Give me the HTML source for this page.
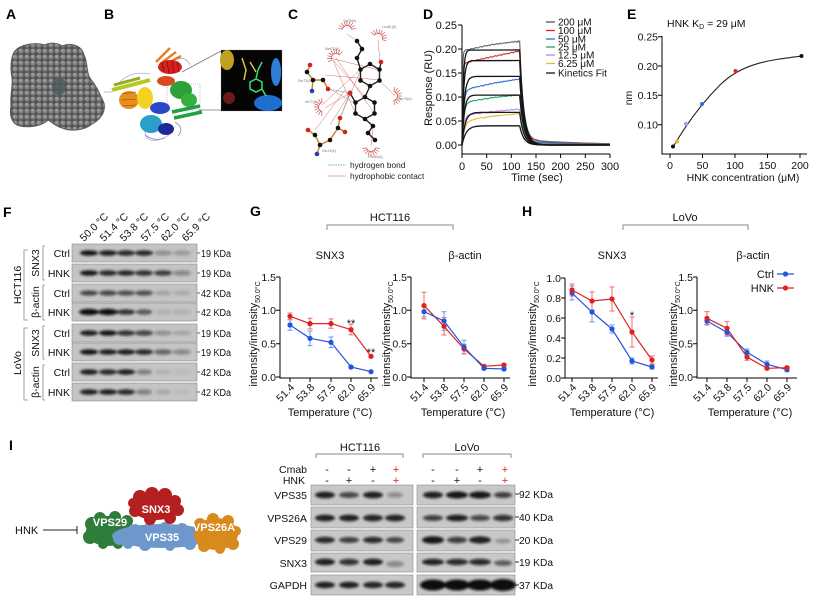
<!DOCTYPE html>
<html><head><meta charset="utf-8"><title>Figure</title>
<style>
html,body{margin:0;padding:0;background:#fff;width:819px;height:603px;overflow:hidden}
svg{display:block;font-family:"Liberation Sans",Arial,sans-serif}
</style></head><body>
<svg width="819" height="603" viewBox="0 0 819 603" xmlns="http://www.w3.org/2000/svg" xmlns:xlink="http://www.w3.org/1999/xlink">
<defs>
 <filter id="bl" x="-50%" y="-150%" width="200%" height="400%"><feGaussianBlur stdDeviation="1.3"/></filter>
 <filter id="bs" x="-20%" y="-20%" width="140%" height="140%"><feGaussianBlur stdDeviation="0.5"/></filter>
 <pattern id="bump" width="6" height="6" patternUnits="userSpaceOnUse">
  <rect width="6" height="6" fill="#555"/>
  <circle cx="3" cy="3" r="2.5" fill="#858585"/>
  <circle cx="2.4" cy="2.3" r="1.1" fill="#a8a8a8"/>
 </pattern>
 <g id="sp" fill="none" stroke="#d45050" stroke-width="0.7">
  <path d="M-4.43,-0.78A4.5,4.5 0 0 1 4.43,-0.78 M-4.43,-0.78L-8.86,-1.57 M-3.9,-2.25L-7.79,-4.5 M-2.89,-3.45L-5.79,-6.89 M-1.54,-4.23L-3.08,-8.46 M0,-4.5L0,-9 M1.54,-4.23L3.08,-8.46 M2.89,-3.45L5.79,-6.89 M3.9,-2.25L7.79,-4.5 M4.43,-0.78L8.86,-1.57"/>
 </g>
</defs>
<rect width="819" height="603" fill="#fff"/>

<!-- Panel letters -->
<g font-weight="bold" font-size="14" fill="#000">
<text x="6" y="19">A</text><text x="104" y="19">B</text><text x="288" y="19">C</text><text x="423" y="19">D</text><text x="627" y="19">E</text>
<text x="3" y="217">F</text><text x="250" y="216">G</text><text x="522" y="216">H</text><text x="9" y="450">I</text>
</g>

<!-- Panel A -->
<path d="M14,52 C20,44 35,42 45,45 C50,42 58,43 62,46 C72,42 82,46 84,55 C88,62 86,72 90,78 C98,88 100,95 104,103 C106,112 100,120 92,124 C85,130 72,132 62,128 C55,126 52,122 48,120 C42,126 30,128 20,126 C12,124 9,116 11,106 C10,95 13,86 12,78 C10,68 11,58 14,52 Z" fill="url(#bump)" stroke="#5a5a5a" stroke-width="1"/>
<ellipse cx="59" cy="86" rx="7" ry="9" fill="#4a5c5c" opacity="0.85"/>

<!-- Panel B -->
<g>
<line x1="182" y1="72" x2="221" y2="51" stroke="#777" stroke-width="0.8"/>
<line x1="198" y1="110" x2="221" y2="110" stroke="#777" stroke-width="0.8"/>
<rect x="167" y="84" width="33" height="26" fill="none" stroke="#99a" stroke-width="0.6" stroke-dasharray="1,1"/>
<path d="M118,84 Q130,70 150,74 M150,120 Q140,135 150,140 Q160,142 170,134 M175,60 Q185,55 190,65 M112,92 L104,92" stroke="#b8a0d8" stroke-width="0.8" fill="none"/>
<path d="M156,62 L170,48 M160,64 L176,52 M164,65 L181,56" stroke="#e0802a" stroke-width="2.5" fill="none"/>
<ellipse cx="170" cy="67" rx="12" ry="7" fill="#d42020"/>
<path d="M162,62 L164,72 M167,61 L169,73 M172,61 L174,73 M177,62 L179,72" stroke="#8a1010" stroke-width="0.8"/>
<ellipse cx="166" cy="81" rx="9" ry="5" fill="#d84a20"/>
<path d="M112,90 L150,80" stroke="#b8c820" stroke-width="4"/>
<path d="M114,85 L140,78" stroke="#90b020" stroke-width="3"/>
<ellipse cx="129" cy="100" rx="10" ry="9" fill="#e8901e"/>
<path d="M122,94 L136,92 M121,100 L137,99 M122,106 L136,105" stroke="#a85a10" stroke-width="0.8"/>
<ellipse cx="145" cy="98" rx="8" ry="11" fill="#f2d21e"/>
<ellipse cx="181" cy="90" rx="11" ry="9" fill="#2da038"/>
<ellipse cx="189" cy="100" rx="8" ry="7" fill="#38b040"/>
<path d="M172,112 L200,106 M174,118 L202,112" stroke="#20a040" stroke-width="3.5"/>
<ellipse cx="160" cy="108" rx="10" ry="6" fill="#2848c8"/>
<ellipse cx="151" cy="124" rx="11" ry="9" fill="#2aa0c8"/>
<ellipse cx="166" cy="129" rx="8" ry="6" fill="#1c2a98"/>
<path d="M145,135 Q155,142 165,138 M175,122 Q185,128 178,136" stroke="#8090c0" stroke-width="0.8" fill="none"/>
<rect x="221" y="50" width="61" height="61" fill="#050505" stroke="#888" stroke-width="0.6" stroke-dasharray="1,1"/>
<ellipse cx="227" cy="60" rx="7" ry="10" fill="#c0a020"/>
<ellipse cx="276" cy="72" rx="5" ry="14" fill="#2e7fd8"/>
<ellipse cx="268" cy="103" rx="14" ry="8" fill="#1e6ed0"/>
<ellipse cx="229" cy="98" rx="6" ry="6" fill="#6a1a1a"/>
<path d="M242,58 L246,70 L244,80 M250,62 L256,72" stroke="#e0c040" stroke-width="1.5" fill="none"/>
<path d="M250,82 L256,79 L262,82 L262,89 L256,92 L250,89 Z M256,79 L258,70 L262,62 M262,89 L266,96" stroke="#3ae070" stroke-width="1.5" fill="none"/>
</g>

<!-- Panel C -->
<g>
<g stroke="#d05050" stroke-width="0.5" opacity="0.85">
<line x1="330" y1="58" x2="379" y2="70"/><line x1="333" y1="60" x2="365" y2="97"/><line x1="333" y1="60" x2="355" y2="113"/>
<line x1="325" y1="75" x2="380" y2="80"/><line x1="328" y1="88" x2="355" y2="103"/><line x1="322" y1="105" x2="360" y2="70"/>
<line x1="325" y1="108" x2="350" y2="93"/><line x1="330" y1="125" x2="350" y2="93"/><line x1="340" y1="118" x2="360" y2="72"/>
<line x1="315" y1="130" x2="345" y2="90"/><line x1="395" y1="96" x2="379" y2="80"/><line x1="371" y1="146" x2="373" y2="126"/>
<line x1="378" y1="40" x2="380" y2="62"/><line x1="347" y1="34" x2="357" y2="41"/><line x1="336" y1="58" x2="374" y2="113"/>
</g>
<g stroke="#3aa0a0" stroke-width="0.7" stroke-dasharray="1.5,1"><line x1="328" y1="89" x2="350" y2="93"/><line x1="340" y1="118" x2="350" y2="93"/></g>
<use xlink:href="#sp" href="#sp" transform="translate(347,30)"/>
<use xlink:href="#sp" href="#sp" transform="translate(378,38) rotate(30)"/>
<use xlink:href="#sp" href="#sp" transform="translate(336,58) rotate(-35)"/>
<use xlink:href="#sp" href="#sp" transform="translate(393,96) rotate(90)"/>
<use xlink:href="#sp" href="#sp" transform="translate(323,107) rotate(-90)"/>
<use xlink:href="#sp" href="#sp" transform="translate(371,147) rotate(180)"/>
<g font-size="3.5" fill="#777">
<text x="343" y="22">Tyr76(A)</text><text x="382" y="28">Leu81(A)</text><text x="325" y="50">Met75(A)</text>
<text x="398" y="100">Trp79(A)</text><text x="305" y="103">Ile77(A)</text><text x="368" y="158">Phe82(A)</text>
<text x="298" y="82">Ser73(A)</text><text x="322" y="152">Glu74(A)</text>
</g>
<g stroke="#222" stroke-width="1.4" fill="none">
<path d="M370,64 L379.5,69.5 L379.5,80.5 L370,86 L360.5,80.5 L360.5,69.5 Z"/>
<path d="M365,97 L374.5,102.5 L374.5,113.5 L365,119 L355.5,113.5 L355.5,102.5 Z"/>
<path d="M370,86 L365,97 M360.5,69.5 L357,58 L362,49 L357,41 M379.5,69.5 L381,62 M355.5,102.5 L350,93 M365,119 L373,126 L368,133 L375,140"/>
</g>
<g stroke="#c88020" stroke-width="1.4" fill="none">
<path d="M310,65 L307,72 L313,80 L323,80 L328,89 M313,80 L312,90"/>
<path d="M308,130 L315,135 L320,145 L317,154 M320,145 L330,140 L338,128 L340,118 M338,128 L345,132"/>
</g>
<g fill="#111">
<circle cx="370" cy="64" r="2.3"/><circle cx="379.5" cy="69.5" r="2.3"/><circle cx="379.5" cy="80.5" r="2.3"/><circle cx="370" cy="86" r="2.3"/><circle cx="360.5" cy="80.5" r="2.3"/><circle cx="360.5" cy="69.5" r="2.3"/>
<circle cx="365" cy="97" r="2.3"/><circle cx="374.5" cy="102.5" r="2.3"/><circle cx="374.5" cy="113.5" r="2.3"/><circle cx="365" cy="119" r="2.3"/><circle cx="355.5" cy="113.5" r="2.3"/><circle cx="355.5" cy="102.5" r="2.3"/>
<circle cx="357" cy="58" r="2.3"/><circle cx="362" cy="49" r="2.3"/><circle cx="357" cy="41" r="2.3"/>
<circle cx="373" cy="126" r="2.3"/><circle cx="368" cy="133" r="2.3"/><circle cx="375" cy="140" r="2.3"/>
<circle cx="307" cy="72" r="2.3"/><circle cx="313" cy="80" r="2.3"/><circle cx="323" cy="80" r="2.3"/>
<circle cx="315" cy="135" r="2.3"/><circle cx="320" cy="145" r="2.3"/><circle cx="330" cy="140" r="2.3"/><circle cx="338" cy="128" r="2.3"/>
</g>
<g fill="#d42020"><circle cx="381" cy="62" r="2.3"/><circle cx="350" cy="93" r="2.5"/><circle cx="310" cy="65" r="2.3"/><circle cx="328" cy="89" r="2.3"/><circle cx="308" cy="130" r="2.3"/><circle cx="340" cy="118" r="2.3"/><circle cx="345" cy="132" r="2.3"/></g>
<g fill="#2040b0"><circle cx="312" cy="91" r="2.3"/><circle cx="317" cy="154" r="2.3"/></g>
<line x1="328" y1="165" x2="346" y2="165" stroke="#3aa0a0" stroke-width="0.8" stroke-dasharray="1.5,1"/>
<line x1="328" y1="176" x2="346" y2="176" stroke="#d05050" stroke-width="0.8" stroke-dasharray="1.5,1"/>
<text x="350" y="168" font-size="8.3" fill="#222">hydrogen bond</text>
<text x="350" y="179" font-size="8.3" fill="#222">hydrophobic contact</text>
</g>

<!-- Panel D -->
<g stroke="#000" stroke-width="1" fill="none">
<path d="M462,25 V154 M458,25 H462 M458,49 H462 M458,73 H462 M458,97 H462 M458,121 H462 M458,145 H462 M462,154 H610 M462,154 V158 M486.7,154 V158 M511.3,154 V158 M536,154 V158 M560.6,154 V158 M585.3,154 V158 M610,154 V158"/>
</g>
<g font-size="11" fill="#111" text-anchor="end">
<text x="457" y="29">0.25</text><text x="457" y="53">0.20</text><text x="457" y="77">0.15</text><text x="457" y="101">0.10</text><text x="457" y="125">0.05</text><text x="457" y="149">0.00</text>
</g>
<g font-size="11" fill="#111" text-anchor="middle">
<text x="462" y="170">0</text><text x="486.7" y="170">50</text><text x="511.3" y="170">100</text><text x="536" y="170">150</text><text x="560.6" y="170">200</text><text x="585.3" y="170">250</text><text x="610" y="170">300</text>
<text x="537" y="181">Time (sec)</text>
<text transform="translate(432,88) rotate(-90)">Response (RU)</text>
</g>
<g transform="translate(462,145) scale(0.493,-480)" fill="none" stroke-width="1.1">
<polyline vector-effect="non-scaling-stroke" stroke="#e6b82e" points="0,0 2,.015 4,.027 6,.035 8,.041 10,.045 13,.048 16,.05 20,.052 25,.053 30,.055 35,.056 40,.057 45,.057 50,.058 55,.059 60,.06 65,.06 70,.061 75,.061 80,.062 85,.062 90,.063 95,.063 100,.064 105,.064 110,.065 117,.065"/>
<polyline vector-effect="non-scaling-stroke" stroke="#b98be0" points="0,0 2,.024 4,.04 6,.05 8,.056 10,.06 13,.0625 16,.063 20,.064 25,.065 30,.066 35,.065 40,.067 45,.068 50,.067 55,.069 60,.07 65,.069 70,.071 75,.07 80,.072 85,.071 90,.073 95,.072 100,.074 105,.073 110,.075 114,.074 117,.074"/>
<polyline vector-effect="non-scaling-stroke" stroke="#22a06b" points="0,0 2,.035 4,.058 6,.072 8,.08 10,.085 13,.088 16,.09 20,.091 24,.093 28,.092 32,.094 36,.095 40,.094 44,.096 48,.097 52,.096 56,.098 60,.099 64,.098 68,.1 72,.099 76,.101 80,.1 84,.102 88,.101 92,.102 96,.103 100,.102 104,.104 108,.103 112,.104 117,.104"/>
<polyline vector-effect="non-scaling-stroke" stroke="#2f6fd6" points="0,0 2,.05 4,.08 6,.097 8,.107 10,.112 13,.115 16,.117 19,.118 22,.12 25,.119 28,.121 31,.122 34,.121 37,.123 40,.124 43,.123 46,.125 49,.126 52,.125 55,.127 58,.128 61,.127 64,.129 67,.13 70,.129 73,.131 76,.13 79,.132 82,.131 85,.133 88,.132 91,.134 94,.133 97,.135 100,.134 103,.136 106,.135 109,.137 112,.136 115,.137 117,.137"/>
<polyline vector-effect="non-scaling-stroke" stroke="#e02424" points="0,0 1,.08 2,.13 3,.155 4,.164 6,.169 8,.171 11,.172 14,.174 17,.173 20,.175 23,.176 26,.175 29,.177 32,.178 35,.177 38,.179 41,.18 44,.179 47,.181 50,.182 53,.181 56,.183 59,.184 62,.183 65,.185 68,.186 71,.185 74,.187 77,.188 80,.187 83,.189 86,.19 89,.189 92,.191 95,.19 98,.192 101,.193 104,.192 107,.194 110,.195 113,.194 115,.196 117,.196"/>
<polyline vector-effect="non-scaling-stroke" stroke="#666" points="0,0 1,.12 2,.17 3,.188 4,.194 6,.197 8,.198 11,.199 14,.198 17,.2 20,.201 23,.2 26,.202 29,.203 32,.202 35,.204 38,.205 41,.204 44,.206 47,.207 50,.206 53,.208 56,.207 59,.209 62,.21 65,.209 68,.21 71,.211 74,.21 77,.212 80,.211 83,.212 86,.213 89,.212 92,.214 95,.213 98,.214 101,.215 104,.214 107,.216 110,.215 112,.214 114,.217 116,.215 117,.217"/>
<polyline vector-effect="non-scaling-stroke" stroke="#e6b82e" transform="translate(117,0) scale(1,0.065)" points="0,1 1,.88 2,.77 3,.67 4,.59 6,.46 8,.36 10,.28 13,.2 16,.145 20,.1 25,.07 30,.055 40,.042 60,.033 100,.025 140,.018 183,.013"/>
<polyline vector-effect="non-scaling-stroke" stroke="#b98be0" transform="translate(117,0) scale(1,0.074)" points="0,1 1,.88 2,.77 3,.67 4,.59 6,.46 8,.36 10,.28 13,.2 16,.145 20,.1 25,.07 30,.055 40,.042 60,.033 100,.025 140,.018 183,.013"/>
<polyline vector-effect="non-scaling-stroke" stroke="#22a06b" transform="translate(117,0) scale(1,0.104)" points="0,1 1,.88 2,.77 3,.67 4,.59 6,.46 8,.36 10,.28 13,.2 16,.145 20,.1 25,.07 30,.055 40,.042 60,.033 100,.025 140,.018 183,.013"/>
<polyline vector-effect="non-scaling-stroke" stroke="#2f6fd6" transform="translate(117,0) scale(1,0.137)" points="0,1 1,.88 2,.77 3,.67 4,.59 6,.46 8,.36 10,.28 13,.2 16,.145 20,.1 25,.07 30,.055 40,.042 60,.033 100,.025 140,.018 183,.013"/>
<polyline vector-effect="non-scaling-stroke" stroke="#e02424" transform="translate(117,0) scale(1,0.196)" points="0,1 1,.88 2,.77 3,.67 4,.59 6,.46 8,.36 10,.28 13,.2 16,.145 20,.1 25,.07 30,.055 40,.042 60,.033 100,.025 140,.018 183,.013"/>
<polyline vector-effect="non-scaling-stroke" stroke="#666" transform="translate(117,0) scale(1,0.217)" points="0,1 1,.88 2,.77 3,.67 4,.59 6,.46 8,.36 10,.28 13,.2 16,.145 20,.1 25,.07 30,.055 40,.042 60,.033 100,.025 140,.018 183,.013"/>
<g stroke="#151515" stroke-width="1.3">
<polyline vector-effect="non-scaling-stroke" transform="scale(1,0.198)" points="0,0 1,.33 2,.551 3,.699 4,.798 6,.909 8,.959 10,.982 13,.994 16,.998 117,1"/>
<polyline vector-effect="non-scaling-stroke" transform="scale(1,0.176)" points="0,0 2,.451 4,.699 6,.835 8,.909 10,.95 13,.98 16,.992 20,.998 117,1"/>
<polyline vector-effect="non-scaling-stroke" transform="scale(1,0.143)" points="0,0 2,.356 4,.585 6,.733 8,.828 10,.889 13,.943 16,.97 20,.988 25,.996 30,.999 117,1"/>
<polyline vector-effect="non-scaling-stroke" transform="scale(1,0.104)" points="0,0 2,.356 4,.585 6,.733 8,.828 10,.889 13,.943 16,.97 20,.988 25,.996 30,.999 117,1"/>
<polyline vector-effect="non-scaling-stroke" transform="scale(1,0.068)" points="0,0 2,.274 4,.473 6,.617 8,.722 10,.798 13,.875 16,.923 20,.959 25,.982 30,.992 40,.998 117,1"/>
<polyline vector-effect="non-scaling-stroke" transform="scale(1,0.040)" points="0,0 2,.213 4,.381 6,.513 8,.617 10,.699 13,.79 16,.853 20,.909 25,.95 30,.973 40,.992 60,.999 117,1"/>
<polyline vector-effect="non-scaling-stroke" transform="translate(117,0) scale(1,0.198)" points="0,1 1,.887 2,.787 3,.698 4,.619 6,.487 8,.383 10,.301 13,.21 16,.147 20,.091 25,.05 30,.027 40,.008 50,.0025 60,0 183,0"/>
<polyline vector-effect="non-scaling-stroke" transform="translate(117,0) scale(1,0.176)" points="0,1 1,.887 2,.787 3,.698 4,.619 6,.487 8,.383 10,.301 13,.21 16,.147 20,.091 25,.05 30,.027 40,.008 50,.0025 60,0 183,0"/>
<polyline vector-effect="non-scaling-stroke" transform="translate(117,0) scale(1,0.143)" points="0,1 1,.887 2,.787 3,.698 4,.619 6,.487 8,.383 10,.301 13,.21 16,.147 20,.091 25,.05 30,.027 40,.008 50,.0025 60,0 183,0"/>
<polyline vector-effect="non-scaling-stroke" transform="translate(117,0) scale(1,0.104)" points="0,1 1,.887 2,.787 3,.698 4,.619 6,.487 8,.383 10,.301 13,.21 16,.147 20,.091 25,.05 30,.027 40,.008 50,.0025 60,0 183,0"/>
<polyline vector-effect="non-scaling-stroke" transform="translate(117,0) scale(1,0.068)" points="0,1 1,.887 2,.787 3,.698 4,.619 6,.487 8,.383 10,.301 13,.21 16,.147 20,.091 25,.05 30,.027 40,.008 50,.0025 60,0 183,0"/>
<polyline vector-effect="non-scaling-stroke" transform="translate(117,0) scale(1,0.040)" points="0,1 1,.887 2,.787 3,.698 4,.619 6,.487 8,.383 10,.301 13,.21 16,.147 20,.091 25,.05 30,.027 40,.008 50,.0025 60,0 183,0"/>
</g>
</g>
<g stroke-width="1.3">
<line x1="546" y1="22" x2="555" y2="22" stroke="#555"/>
<line x1="546" y1="30.5" x2="555" y2="30.5" stroke="#e02424"/>
<line x1="546" y1="39" x2="555" y2="39" stroke="#2f6fd6"/>
<line x1="546" y1="47" x2="555" y2="47" stroke="#22a06b"/>
<line x1="546" y1="55" x2="555" y2="55" stroke="#b98be0"/>
<line x1="546" y1="63.5" x2="555" y2="63.5" stroke="#e6b82e"/>
<line x1="546" y1="73" x2="555" y2="73" stroke="#151515"/>
</g>
<g font-size="10" fill="#111">
<text x="558" y="25.5">200 μM</text><text x="558" y="34">100 μM</text><text x="558" y="42.5">50 μM</text><text x="558" y="50.5">25 μM</text><text x="558" y="58.5">12.5 μM</text><text x="558" y="67">6.25 μM</text><text x="558" y="76.5">Kinetics Fit</text>
</g>

<!-- Panel E -->
<path d="M662,36 V154 H807 M658,36.7 H662 M658,66 H662 M658,95.3 H662 M658,124.7 H662 M670,154 V158 M702.5,154 V158 M735,154 V158 M767.5,154 V158 M800,154 V158" stroke="#000" fill="none"/>
<g font-size="10.5" fill="#111">
<text x="667" y="27">HNK K<tspan font-size="7" dy="2">D</tspan><tspan dy="-2"> = 29 μM</tspan></text>
<g text-anchor="end"><text x="658" y="40.5">0.25</text><text x="658" y="70">0.20</text><text x="658" y="99">0.15</text><text x="658" y="128.5">0.10</text></g>
<g text-anchor="middle"><text x="670" y="169">0</text><text x="702.5" y="169">50</text><text x="735" y="169">100</text><text x="767.5" y="169">150</text><text x="800" y="169">200</text>
<text x="743" y="181">HNK concentration (μM)</text>
<text transform="translate(632,98) rotate(-90)">nm</text></g>
</g>
<path d="M673,147 C690,118 705,100 720,85 C742,63 770,60 802,56" stroke="#222" stroke-width="1.1" fill="none"/>
<circle cx="673" cy="146.5" r="2" fill="#111"/><circle cx="677" cy="141.5" r="2" fill="#e6b82e"/><circle cx="686" cy="124" r="2" fill="#b98be0"/><circle cx="702" cy="104" r="2" fill="#2f6fd6"/><circle cx="735.5" cy="71" r="2" fill="#e02424"/><circle cx="801.5" cy="56" r="2" fill="#111"/>

<!-- Panel F -->
<g fill="#c4c4c4" stroke="#8a8a8a" stroke-width="0.6">
<rect x="72" y="244" width="125" height="18"/><rect x="72" y="264" width="125" height="18"/><rect x="72" y="284" width="125" height="18"/><rect x="72" y="303" width="125" height="18"/>
<rect x="72" y="324" width="125" height="18"/><rect x="72" y="343" width="125" height="18"/><rect x="72" y="363" width="125" height="18"/><rect x="72" y="383" width="125" height="18"/>
</g>
<g fill="#111" filter="url(#bl)">
<ellipse cx="89" cy="253" rx="9" ry="2.8" opacity=".95"/><ellipse cx="108" cy="253" rx="9" ry="2.8" opacity=".9"/><ellipse cx="126" cy="253" rx="9" ry="2.8" opacity=".85"/><ellipse cx="144" cy="253" rx="9" ry="2.8" opacity=".85"/><ellipse cx="163" cy="253" rx="9" ry="2.8" opacity=".25"/><ellipse cx="182" cy="253" rx="9" ry="2.8" opacity=".2"/>
<ellipse cx="89" cy="273" rx="9" ry="2.8" opacity=".95"/><ellipse cx="108" cy="273" rx="9" ry="2.8" opacity=".85"/><ellipse cx="126" cy="273" rx="9" ry="2.8" opacity=".85"/><ellipse cx="144" cy="273" rx="9" ry="2.8" opacity=".8"/><ellipse cx="163" cy="273" rx="9" ry="2.8" opacity=".75"/><ellipse cx="182" cy="273" rx="9" ry="2.8" opacity=".35"/>
<ellipse cx="89" cy="293" rx="9" ry="2.6" opacity=".7"/><ellipse cx="108" cy="293" rx="9" ry="2.6" opacity=".7"/><ellipse cx="126" cy="293" rx="9" ry="2.6" opacity=".65"/><ellipse cx="144" cy="293" rx="9" ry="2.6" opacity=".65"/><ellipse cx="163" cy="293" rx="9" ry="2.6" opacity=".15"/><ellipse cx="182" cy="293" rx="9" ry="2.6" opacity=".12"/>
<ellipse cx="89" cy="312" rx="10" ry="3.2" opacity=".98"/><ellipse cx="108" cy="312" rx="10" ry="3.2" opacity=".98"/><ellipse cx="126" cy="312" rx="9" ry="2.8" opacity=".8"/><ellipse cx="144" cy="312" rx="8" ry="2.8" opacity=".6"/><ellipse cx="163" cy="312" rx="9" ry="2.6" opacity=".1"/><ellipse cx="182" cy="312" rx="9" ry="2.6" opacity=".1"/>
<ellipse cx="89" cy="333" rx="9" ry="2.8" opacity=".9"/><ellipse cx="108" cy="333" rx="9" ry="2.8" opacity=".95"/><ellipse cx="126" cy="333" rx="9" ry="2.8" opacity=".8"/><ellipse cx="144" cy="333" rx="9" ry="2.8" opacity=".7"/><ellipse cx="163" cy="333" rx="9" ry="2.6" opacity=".25"/><ellipse cx="182" cy="333" rx="9" ry="2.6" opacity=".15"/>
<ellipse cx="89" cy="352" rx="9" ry="2.8" opacity=".95"/><ellipse cx="108" cy="352" rx="9" ry="2.8" opacity=".9"/><ellipse cx="126" cy="352" rx="9" ry="2.8" opacity=".9"/><ellipse cx="144" cy="352" rx="9" ry="2.8" opacity=".85"/><ellipse cx="163" cy="352" rx="9" ry="2.6" opacity=".55"/><ellipse cx="182" cy="352" rx="9" ry="2.6" opacity=".35"/>
<ellipse cx="89" cy="372" rx="9" ry="2.8" opacity=".9"/><ellipse cx="108" cy="372" rx="9" ry="2.8" opacity=".85"/><ellipse cx="126" cy="372" rx="9" ry="2.8" opacity=".9"/><ellipse cx="144" cy="372" rx="8" ry="2.6" opacity=".4"/><ellipse cx="163" cy="372" rx="8" ry="2.4" opacity=".1"/><ellipse cx="182" cy="372" rx="8" ry="2.4" opacity=".05"/>
<ellipse cx="89" cy="392" rx="9" ry="2.8" opacity=".9"/><ellipse cx="108" cy="392" rx="9" ry="2.8" opacity=".9"/><ellipse cx="126" cy="392" rx="9" ry="2.8" opacity=".85"/><ellipse cx="144" cy="392" rx="8" ry="2.6" opacity=".4"/><ellipse cx="163" cy="392" rx="8" ry="2.4" opacity=".15"/><ellipse cx="182" cy="392" rx="8" ry="2.4" opacity=".05"/>
</g>
<g font-size="10.5" fill="#111">
<g transform="translate(84,242) rotate(-45)"><text>50.0 °C</text></g>
<g transform="translate(104,242) rotate(-45)"><text>51.4 °C</text></g>
<g transform="translate(124,242) rotate(-45)"><text>53.8 °C</text></g>
<g transform="translate(145,242) rotate(-45)"><text>57.5 °C</text></g>
<g transform="translate(165,242) rotate(-45)"><text>62.0 °C</text></g>
<g transform="translate(186,242) rotate(-45)"><text>65.9 °C</text></g>
<g text-anchor="end">
<text x="70" y="257">Ctrl</text><text x="70" y="277">HNK</text><text x="70" y="297">Ctrl</text><text x="70" y="316">HNK</text>
<text x="70" y="337">Ctrl</text><text x="70" y="356">HNK</text><text x="70" y="376">Ctrl</text><text x="70" y="396">HNK</text>
</g>
<g text-anchor="middle">
<text transform="translate(39,263) rotate(-90)">SNX3</text>
<text transform="translate(39,302) rotate(-90)">β-actin</text>
<text transform="translate(39,343) rotate(-90)">SNX3</text>
<text transform="translate(39,382) rotate(-90)">β-actin</text>
<text transform="translate(21,285) rotate(-90)">HCT116</text>
<text transform="translate(21,363) rotate(-90)">LoVo</text>
</g>
</g>
<g stroke="#888" stroke-width="0.8" fill="none">
<path d="M28,250 H24 V320 H28 M28,328 H24 V400 H28"/>
<path d="M45,246 H43 V280 H45 M45,285 H43 V320 H45 M45,326 H43 V359 H45 M45,365 H43 V400 H45"/>
<path d="M197,253 H200 M197,273 H200 M197,293 H200 M197,312 H200 M197,333 H200 M197,352 H200 M197,372 H200 M197,392 H200" stroke="#333"/>
</g>
<g font-size="10" fill="#111">
<text x="201" y="257" textLength="30" lengthAdjust="spacingAndGlyphs">19 KDa</text>
<text x="201" y="277" textLength="30" lengthAdjust="spacingAndGlyphs">19 KDa</text>
<text x="201" y="297" textLength="30" lengthAdjust="spacingAndGlyphs">42 KDa</text>
<text x="201" y="316" textLength="30" lengthAdjust="spacingAndGlyphs">42 KDa</text>
<text x="201" y="337" textLength="30" lengthAdjust="spacingAndGlyphs">19 KDa</text>
<text x="201" y="356" textLength="30" lengthAdjust="spacingAndGlyphs">19 KDa</text>
<text x="201" y="376" textLength="30" lengthAdjust="spacingAndGlyphs">42 KDa</text>
<text x="201" y="396" textLength="30" lengthAdjust="spacingAndGlyphs">42 KDa</text>
</g>

<!-- Panels G/H common text -->
<g font-size="11" fill="#111" text-anchor="middle">
<text x="390" y="221">HCT116</text><text x="685" y="221">LoVo</text>
<text x="330" y="259">SNX3</text><text x="465" y="259">β-actin</text><text x="612" y="259">SNX3</text><text x="753" y="259">β-actin</text>
<text x="330" y="416">Temperature (°C)</text><text x="463" y="416">Temperature (°C)</text><text x="612" y="416">Temperature (°C)</text><text x="750" y="416">Temperature (°C)</text>
<text transform="translate(257,334) rotate(-90)">intensity/intensity<tspan font-size="7" dy="3">50.0°C</tspan></text>
<text transform="translate(390,334) rotate(-90)">intensity/intensity<tspan font-size="7" dy="3">50.0°C</tspan></text>
<text transform="translate(536,334) rotate(-90)">intensity/intensity<tspan font-size="7" dy="3">50.0°C</tspan></text>
<text transform="translate(677,334) rotate(-90)">intensity/intensity<tspan font-size="7" dy="3">50.0°C</tspan></text>
</g>
<path d="M327,230 V225 H453 V230 M623,230 V225 H748 V230" stroke="#888" fill="none"/>

<!-- Axes G/H -->
<g stroke="#000" stroke-width="1" fill="none">
<path d="M280,277 V378 H378 M276,277 H280 M276,310.3 H280 M276,343.7 H280 M276,377 H280 M290,378 V382 M310,378 V382 M331,378 V382 M351,378 V382 M371,378 V382"/>
<path d="M411,277 V378 H510 M407,277 H411 M407,310.3 H411 M407,343.7 H411 M407,377 H411 M424,378 V382 M444,378 V382 M464,378 V382 M484,378 V382 M504,378 V382"/>
<path d="M565,278 V378 H658 M561,278 H565 M561,298 H565 M561,318 H565 M561,338 H565 M561,358 H565 M561,378 H565 M572,378 V382 M592,378 V382 M612,378 V382 M632,378 V382 M652,378 V382"/>
<path d="M697,277 V378 H797 M693,277 H697 M693,310.3 H697 M693,343.7 H697 M693,377 H697 M707,378 V382 M727,378 V382 M747,378 V382 M767,378 V382 M787,378 V382"/>
</g>
<g font-size="10.5" fill="#111" text-anchor="end">
<text x="276" y="281">1.5</text><text x="276" y="314">1.0</text><text x="276" y="347.5">0.5</text><text x="276" y="381">0.0</text>
<text x="407" y="281">1.5</text><text x="407" y="314">1.0</text><text x="407" y="347.5">0.5</text><text x="407" y="381">0.0</text>
<text x="561" y="282">1.0</text><text x="561" y="302">0.8</text><text x="561" y="322">0.6</text><text x="561" y="342">0.4</text><text x="561" y="362">0.2</text><text x="561" y="382">0.0</text>
<text x="693" y="281">1.5</text><text x="693" y="314">1.0</text><text x="693" y="347.5">0.5</text><text x="693" y="381">0.0</text>
<text transform="translate(295,388) rotate(-45)">51.4</text><text transform="translate(315,388) rotate(-45)">53.8</text><text transform="translate(336,388) rotate(-45)">57.5</text><text transform="translate(356,388) rotate(-45)">62.0</text><text transform="translate(376,388) rotate(-45)">65.9</text>
<text transform="translate(429,388) rotate(-45)">51.4</text><text transform="translate(449,388) rotate(-45)">53.8</text><text transform="translate(469,388) rotate(-45)">57.5</text><text transform="translate(489,388) rotate(-45)">62.0</text><text transform="translate(509,388) rotate(-45)">65.9</text>
<text transform="translate(577,388) rotate(-45)">51.4</text><text transform="translate(597,388) rotate(-45)">53.8</text><text transform="translate(617,388) rotate(-45)">57.5</text><text transform="translate(637,388) rotate(-45)">62.0</text><text transform="translate(657,388) rotate(-45)">65.9</text>
<text transform="translate(712,388) rotate(-45)">51.4</text><text transform="translate(732,388) rotate(-45)">53.8</text><text transform="translate(752,388) rotate(-45)">57.5</text><text transform="translate(772,388) rotate(-45)">62.0</text><text transform="translate(792,388) rotate(-45)">65.9</text>
</g>

<!-- G SNX3 data -->
<g fill="none" stroke-width="1">
<path stroke="#6a95f0" d="M290,319.7V330.3M287.5,319.7H292.5M287.5,330.3H292.5 M310,331V345.6M307.5,331H312.5M307.5,345.6H312.5 M331,337V347.6M328.5,337H333.5M328.5,347.6H333.5 M351,365.7V368.3M348.5,365.7H353.5M348.5,368.3H353.5"/>
<path stroke="#f06a6a" d="M290,313V319.6M287.5,313H292.5M287.5,319.6H292.5 M310,318.3V328.9M307.5,318.3H312.5M307.5,328.9H312.5 M331,318.9V328.3M328.5,318.9H333.5M328.5,328.3H333.5 M351,324.3V334.9M348.5,324.3H353.5M348.5,334.9H353.5 M371,355V357.6M368.5,355H373.5M368.5,357.6H373.5"/>
<polyline stroke="#2255dd" stroke-width="1.2" points="290,325 310,338.3 331,342.3 351,367 371,371.7"/>
<polyline stroke="#dd2222" stroke-width="1.2" points="290,316.3 310,323.6 331,323.6 351,329.6 371,356.3"/>
</g>
<g fill="#2255dd"><circle cx="290" cy="325" r="2.6"/><circle cx="310" cy="338.3" r="2.6"/><circle cx="331" cy="342.3" r="2.6"/><circle cx="351" cy="367" r="2.6"/><circle cx="371" cy="371.7" r="2.6"/></g>
<g fill="#dd2222"><circle cx="290" cy="316.3" r="2.6"/><circle cx="310" cy="323.6" r="2.6"/><circle cx="331" cy="323.6" r="2.6"/><circle cx="351" cy="329.6" r="2.6"/><circle cx="371" cy="356.3" r="2.6"/></g>
<g font-size="11" fill="#111" text-anchor="middle"><text x="351" y="327">**</text><text x="371" y="356">**</text></g>

<!-- G beta-actin data -->
<g fill="none" stroke-width="1">
<path stroke="#6a95f0" d="M424,306.3V316.9M421.5,306.3H426.5M421.5,316.9H426.5 M444,311.7V330.3M441.5,311.7H446.5M441.5,330.3H446.5 M464,340.3V353.7M461.5,340.3H466.5M461.5,353.7H466.5 M484,367V369.6M481.5,367H486.5M481.5,369.6H486.5 M504,367.7V370.3M501.5,367.7H506.5M501.5,370.3H506.5"/>
<path stroke="#f06a6a" d="M424,292.3V318.9M421.5,292.3H426.5M421.5,318.9H426.5 M444,317.6V335M441.5,317.6H446.5M441.5,335H446.5 M464,344.3V353.7M461.5,344.3H466.5M461.5,353.7H466.5 M484,365V367.6M481.5,365H486.5M481.5,367.6H486.5 M504,363.7V366.3M501.5,363.7H506.5M501.5,366.3H506.5"/>
<polyline stroke="#dd2222" stroke-width="1.2" points="424,305.6 444,326.3 464,349 484,366.3 504,365"/>
<polyline stroke="#2255dd" stroke-width="1.2" points="424,311.6 444,321 464,347 484,368.3 504,369"/>
</g>
<g fill="#dd2222"><circle cx="424" cy="305.6" r="2.6"/><circle cx="444" cy="326.3" r="2.6"/><circle cx="464" cy="349" r="2.6"/><circle cx="484" cy="366.3" r="2.6"/><circle cx="504" cy="365" r="2.6"/></g>
<g fill="#2255dd"><circle cx="424" cy="311.6" r="2.6"/><circle cx="444" cy="321" r="2.6"/><circle cx="464" cy="347" r="2.6"/><circle cx="484" cy="368.3" r="2.6"/><circle cx="504" cy="369" r="2.6"/></g>

<!-- H SNX3 data -->
<g fill="none" stroke-width="1">
<path stroke="#6a95f0" d="M572,286V300M569.5,286H574.5M569.5,300H574.5 M592,302V322M589.5,302H594.5M589.5,322H594.5 M612,325V333M609.5,325H614.5M609.5,333H614.5 M632,358V364M629.5,358H634.5M629.5,364H634.5 M652,365V369M649.5,365H654.5M649.5,369H654.5"/>
<path stroke="#f06a6a" d="M572,284V296M569.5,284H574.5M569.5,296H574.5 M592,292V310M589.5,292H594.5M589.5,310H594.5 M612,287V311M609.5,287H614.5M609.5,311H614.5 M632,317V347M629.5,317H634.5M629.5,347H634.5 M652,356V364M649.5,356H654.5M649.5,364H654.5"/>
<polyline stroke="#2255dd" stroke-width="1.2" points="572,293 592,312 612,329 632,361 652,367"/>
<polyline stroke="#dd2222" stroke-width="1.2" points="572,290 592,301 612,299 632,332 652,360"/>
</g>
<g fill="#2255dd"><circle cx="572" cy="293" r="2.6"/><circle cx="592" cy="312" r="2.6"/><circle cx="612" cy="329" r="2.6"/><circle cx="632" cy="361" r="2.6"/><circle cx="652" cy="367" r="2.6"/></g>
<g fill="#dd2222"><circle cx="572" cy="290" r="2.6"/><circle cx="592" cy="301" r="2.6"/><circle cx="612" cy="299" r="2.6"/><circle cx="632" cy="332" r="2.6"/><circle cx="652" cy="360" r="2.6"/></g>
<text x="632" y="319" font-size="11" fill="#111" text-anchor="middle">*</text>

<!-- H beta-actin data -->
<g fill="none" stroke-width="1">
<path stroke="#6a95f0" d="M707,317.7V324.3M704.5,317.7H709.5M704.5,324.3H709.5 M727,328.3V336.3M724.5,328.3H729.5M724.5,336.3H729.5 M747,349V355.6M744.5,349H749.5M744.5,355.6H749.5 M767,361V367.6M764.5,361H769.5M764.5,367.6H769.5 M787,367.7V371.7M784.5,367.7H789.5M784.5,371.7H789.5"/>
<path stroke="#f06a6a" d="M707,311.6V325M704.5,311.6H709.5M704.5,325H709.5 M727,321.6V335M724.5,321.6H729.5M724.5,335H729.5 M747,353.7V360.3M744.5,353.7H749.5M744.5,360.3H749.5 M767,367V369.6M764.5,367H769.5M764.5,369.6H769.5 M787,366.4V369M784.5,366.4H789.5M784.5,369H789.5"/>
<polyline stroke="#2255dd" stroke-width="1.2" points="707,321 727,332.3 747,352.3 767,364.3 787,369.7"/>
<polyline stroke="#dd2222" stroke-width="1.2" points="707,318.3 727,328.3 747,357 767,368.3 787,367.7"/>
</g>
<g fill="#2255dd"><circle cx="707" cy="321" r="2.6"/><circle cx="727" cy="332.3" r="2.6"/><circle cx="747" cy="352.3" r="2.6"/><circle cx="767" cy="364.3" r="2.6"/><circle cx="787" cy="369.7" r="2.6"/></g>
<g fill="#dd2222"><circle cx="707" cy="318.3" r="2.6"/><circle cx="727" cy="328.3" r="2.6"/><circle cx="747" cy="357" r="2.6"/><circle cx="767" cy="368.3" r="2.6"/><circle cx="787" cy="367.7" r="2.6"/></g>

<!-- H legend -->
<g font-size="11" fill="#111" text-anchor="end"><text x="774" y="278">Ctrl</text><text x="774" y="292">HNK</text></g>
<line x1="777" y1="274" x2="794" y2="274" stroke="#2255dd" stroke-width="1.2"/><circle cx="785.5" cy="274" r="2.6" fill="#2255dd"/>
<line x1="777" y1="288" x2="794" y2="288" stroke="#dd2222" stroke-width="1.2"/><circle cx="785.5" cy="288" r="2.6" fill="#dd2222"/>

<!-- Panel I schematic -->
<text x="15" y="534" font-size="11" fill="#111">HNK</text>
<path d="M43,530 H77 M77,526 V534" stroke="#222" stroke-width="1" fill="none"/>
<g fill="#2f7d3b">
<ellipse cx="108" cy="531" rx="22" ry="15"/><circle cx="92" cy="524" r="7"/><circle cx="100" cy="518" r="6"/><circle cx="115" cy="517" r="6"/><circle cx="127" cy="521" r="6"/><circle cx="90" cy="537" r="7"/><circle cx="103" cy="544" r="5"/><circle cx="118" cy="544" r="5"/>
</g>
<g fill="#6e98cc">
<ellipse cx="162" cy="536" rx="50" ry="12"/><circle cx="120" cy="538" r="7"/><circle cx="135" cy="530" r="6"/><circle cx="150" cy="528" r="6"/><circle cx="165" cy="528" r="6"/><circle cx="182" cy="529" r="6"/><circle cx="197" cy="532" r="6"/><circle cx="205" cy="538" r="6"/><circle cx="190" cy="544" r="6"/><circle cx="170" cy="546" r="5"/><circle cx="145" cy="545" r="6"/><circle cx="128" cy="544" r="5"/>
</g>
<g fill="#d88a1c">
<ellipse cx="216" cy="534" rx="22" ry="16"/><circle cx="200" cy="524" r="6"/><circle cx="213" cy="519" r="6"/><circle cx="228" cy="521" r="6"/><circle cx="236" cy="531" r="5"/><circle cx="233" cy="544" r="6"/><circle cx="220" cy="549" r="5"/><circle cx="204" cy="546" r="6"/>
</g>
<g fill="#b3201f">
<ellipse cx="156" cy="507" rx="24" ry="13"/><circle cx="140" cy="497" r="7"/><circle cx="152" cy="494" r="7"/><circle cx="165" cy="495" r="7"/><circle cx="175" cy="501" r="6"/><circle cx="178" cy="510" r="6"/><circle cx="170" cy="518" r="6"/><circle cx="150" cy="519" r="6"/><circle cx="135" cy="511" r="6"/><circle cx="133" cy="503" r="5"/>
</g>
<g font-size="11" font-weight="bold" fill="#fff" text-anchor="middle">
<text x="156" y="513">SNX3</text><text x="110" y="526">VPS29</text><text x="162" y="541">VPS35</text><text x="214" y="531">VPS26A</text>
</g>

<!-- Panel I blots -->
<g font-size="11" fill="#111" text-anchor="middle">
<text x="360" y="451">HCT116</text><text x="467" y="451">LoVo</text>
</g>
<path d="M316,458 V454 H403 V458 M423,458 V454 H511 V458" stroke="#888" fill="none"/>
<g font-size="10.5" fill="#111" text-anchor="end">
<text x="307" y="473">Cmab</text><text x="305" y="484">HNK</text>
<text x="307" y="499">VPS35</text><text x="307" y="522">VPS26A</text><text x="307" y="544">VPS29</text><text x="307" y="567">SNX3</text><text x="307" y="589">GAPDH</text>
</g>
<g font-size="11" fill="#111" text-anchor="middle">
<text x="327" y="473">-</text><text x="349" y="473">-</text><text x="373" y="473">+</text><text x="396" y="473" fill="#e02020">+</text>
<text x="327" y="484">-</text><text x="349" y="484">+</text><text x="373" y="484">-</text><text x="396" y="484" fill="#e02020">+</text>
<text x="433" y="473">-</text><text x="457" y="473">-</text><text x="480" y="473">+</text><text x="505" y="473" fill="#e02020">+</text>
<text x="433" y="484">-</text><text x="457" y="484">+</text><text x="480" y="484">-</text><text x="505" y="484" fill="#e02020">+</text>
</g>
<g fill="#c8c8c8" stroke="#8a8a8a" stroke-width="0.6">
<rect x="311" y="485" width="102" height="20"/><rect x="311" y="507" width="102" height="21"/><rect x="311" y="530" width="102" height="21"/><rect x="311" y="553" width="102" height="19"/><rect x="311" y="575" width="102" height="20"/>
<rect x="417" y="485" width="98" height="20"/><rect x="417" y="507" width="98" height="21"/><rect x="417" y="530" width="98" height="21"/><rect x="417" y="553" width="98" height="19"/><rect x="417" y="575" width="98" height="20"/>
</g>
<g fill="#111" filter="url(#bl)">
<ellipse cx="325" cy="495" rx="10" ry="3.4" opacity=".9"/><ellipse cx="349" cy="495" rx="10" ry="3" opacity=".7"/><ellipse cx="373" cy="495" rx="10" ry="3.4" opacity=".9"/><ellipse cx="395" cy="495" rx="8" ry="2.6" opacity=".35"/>
<ellipse cx="325" cy="518" rx="10" ry="3.4" opacity=".9"/><ellipse cx="349" cy="518" rx="10" ry="3.4" opacity=".9"/><ellipse cx="373" cy="518" rx="10" ry="3.4" opacity=".88"/><ellipse cx="395" cy="518" rx="10" ry="3.4" opacity=".88"/>
<ellipse cx="325" cy="540" rx="10" ry="3.2" opacity=".85"/><ellipse cx="349" cy="540" rx="10" ry="3" opacity=".75"/><ellipse cx="373" cy="540" rx="10" ry="3.2" opacity=".85"/><ellipse cx="395" cy="540" rx="9" ry="3" opacity=".7"/>
<ellipse cx="325" cy="562" rx="10" ry="3.4" opacity=".9"/><ellipse cx="349" cy="562" rx="10" ry="3.2" opacity=".8"/><ellipse cx="373" cy="562" rx="10" ry="3.4" opacity=".9"/><ellipse cx="395" cy="564" rx="9" ry="3" opacity=".35"/>
<ellipse cx="325" cy="585" rx="10" ry="3.2" opacity=".9"/><ellipse cx="349" cy="585" rx="10" ry="3.2" opacity=".9"/><ellipse cx="373" cy="585" rx="10" ry="3.2" opacity=".88"/><ellipse cx="395" cy="585" rx="10" ry="3.2" opacity=".88"/>
<ellipse cx="433" cy="495" rx="10" ry="3.4" opacity=".9"/><ellipse cx="457" cy="495" rx="11" ry="3.6" opacity=".95"/><ellipse cx="480" cy="495" rx="11" ry="3.6" opacity=".95"/><ellipse cx="503" cy="495" rx="9" ry="3" opacity=".75"/>
<ellipse cx="433" cy="518" rx="10" ry="3" opacity=".75"/><ellipse cx="457" cy="518" rx="11" ry="3.4" opacity=".9"/><ellipse cx="480" cy="518" rx="10" ry="3" opacity=".7"/><ellipse cx="503" cy="518" rx="10" ry="3.2" opacity=".8"/>
<ellipse cx="433" cy="540" rx="11" ry="3.8" opacity=".95"/><ellipse cx="457" cy="540" rx="10" ry="3.2" opacity=".75"/><ellipse cx="480" cy="540" rx="11" ry="3.6" opacity=".9"/><ellipse cx="503" cy="541" rx="8" ry="2.6" opacity=".25"/>
<ellipse cx="433" cy="562" rx="11" ry="3.2" opacity=".9"/><ellipse cx="457" cy="562" rx="11" ry="3.2" opacity=".85"/><ellipse cx="480" cy="562" rx="11" ry="3.2" opacity=".85"/><ellipse cx="503" cy="563" rx="9" ry="2.8" opacity=".6"/>
<ellipse cx="433" cy="585" rx="13" ry="5.5" opacity="1"/><ellipse cx="457" cy="585" rx="13" ry="5.5" opacity="1"/><ellipse cx="480" cy="585" rx="13" ry="5.5" opacity="1"/><ellipse cx="503" cy="585" rx="13" ry="6" opacity="1"/>
</g>
<path d="M515,494 H519 M515,517 H519 M515,540 H519 M515,562 H519 M515,585 H519" stroke="#333"/>
<g font-size="10" fill="#111">
<text x="519" y="498" textLength="34" lengthAdjust="spacingAndGlyphs">92 KDa</text>
<text x="519" y="521" textLength="34" lengthAdjust="spacingAndGlyphs">40 KDa</text>
<text x="519" y="544" textLength="34" lengthAdjust="spacingAndGlyphs">20 KDa</text>
<text x="519" y="566" textLength="34" lengthAdjust="spacingAndGlyphs">19 KDa</text>
<text x="519" y="589" textLength="34" lengthAdjust="spacingAndGlyphs">37 KDa</text>
</g>
</svg>
</body></html>
